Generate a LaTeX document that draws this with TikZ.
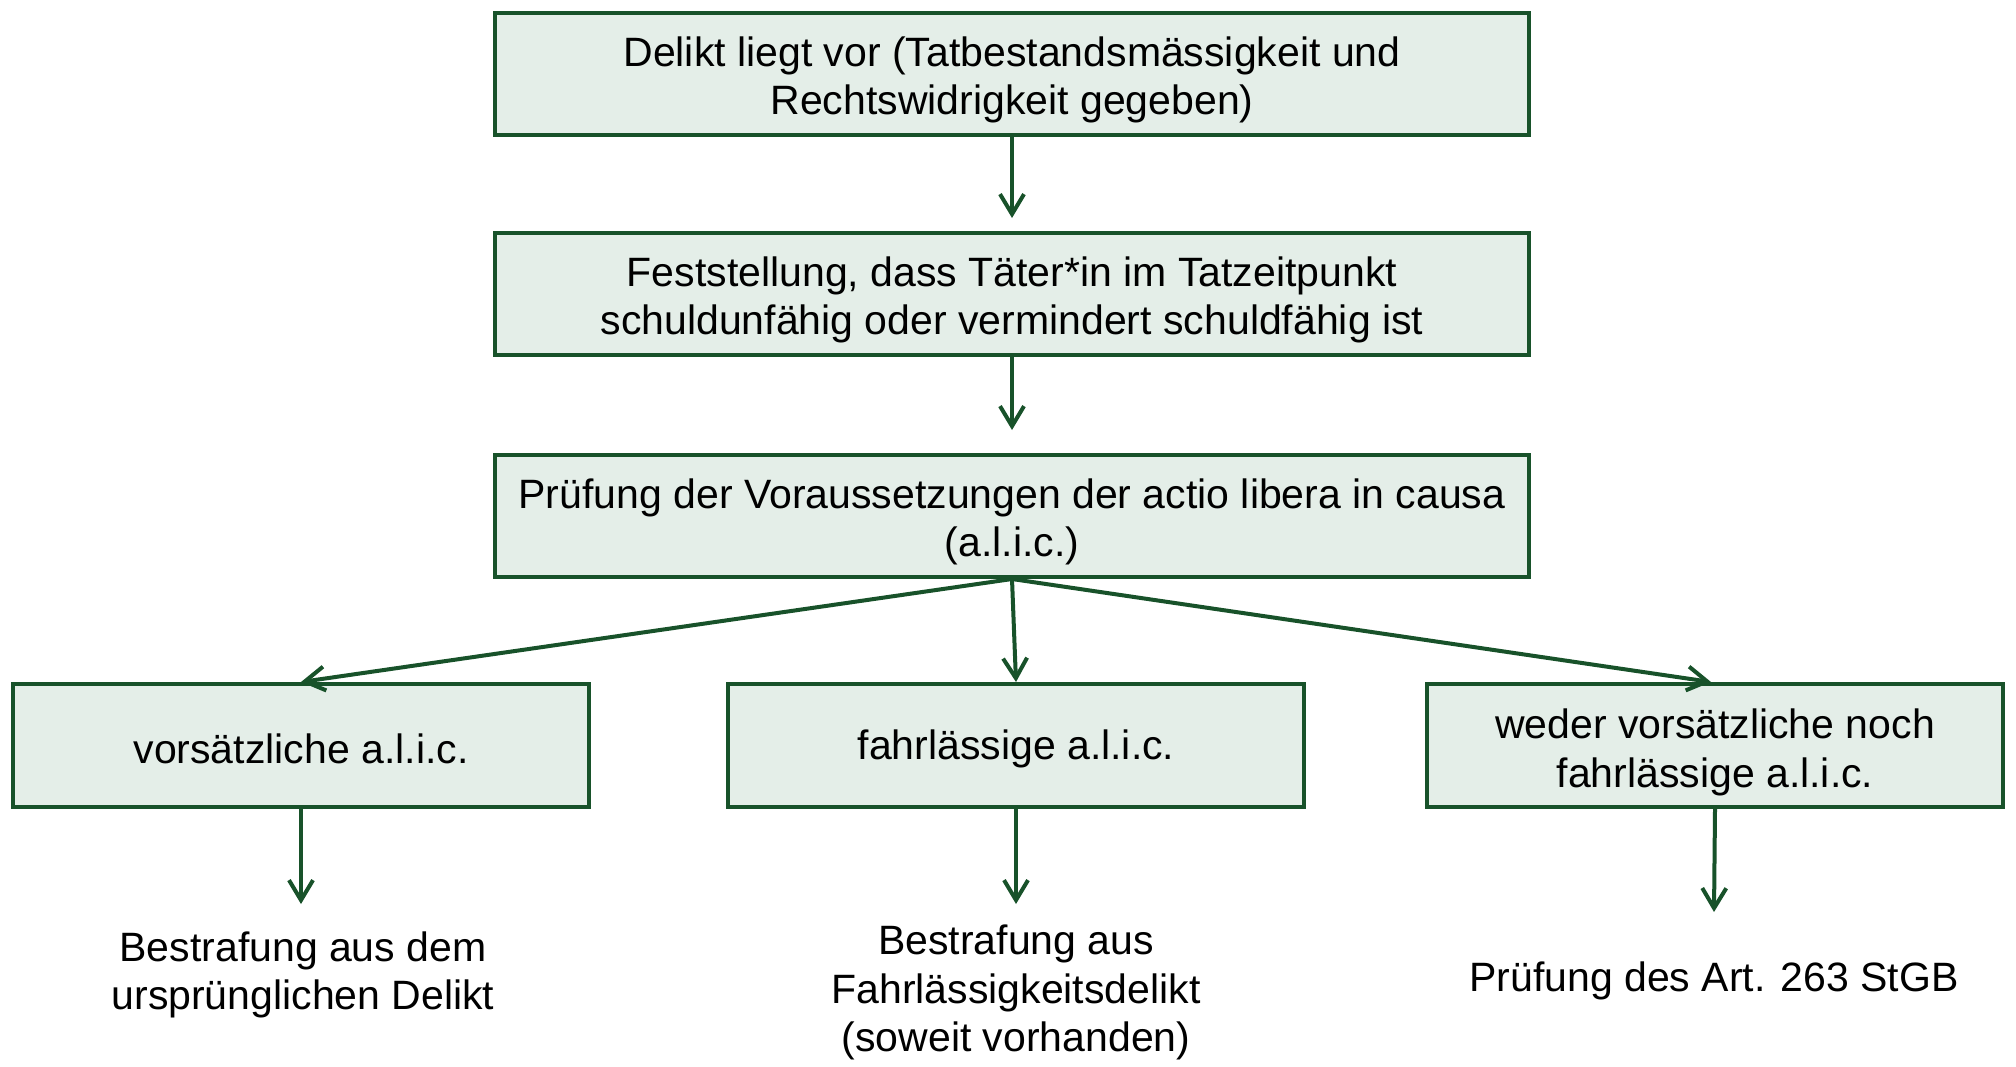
\documentclass[tikz,border=0pt]{standalone}
\usepackage{fontspec}
\setmainfont{Liberation Sans}
\usetikzlibrary{arrows.meta}
\definecolor{dgreen}{RGB}{24,82,42}
\definecolor{lgreen}{RGB}{228,238,232}
\newcommand\liftline{\rule{0pt}{20.5pt}}
\begin{document}
\begin{tikzpicture}[x=0.5pt,y=-0.5pt,
  lbl/.style={font=\fontsize{20.5pt}{24.25pt}\selectfont, align=center, inner sep=0pt},
  box/.style={lbl, draw=dgreen, fill=lgreen, line width=2pt, rectangle},
  wide/.style={box, minimum width=517pt, minimum height=61pt},
  small/.style={box, minimum width=288pt, minimum height=61.5pt},
  arr/.style={draw=dgreen, line width=2pt, -{Straight Barb[length=10pt,width=12pt]}}]
\useasboundingbox (0,0) rectangle (2016,1066);
\node[wide] (b1) at (1012,74) {\liftline Delikt liegt vor (Tatbestandsmässigkeit und\\Rechtswidrigkeit gegeben)};
\node[wide] (b2) at (1012,294) {\liftline Feststellung, dass Täter*in im Tatzeitpunkt\\schuldunfähig oder vermindert schuldfähig ist};
\node[wide] (b3) at (1012,516) {\liftline Prüfung der Voraussetzungen der actio libera in causa\\(a.l.i.c.)};
\node[small] (l) at (301,745.5) {\rule{0pt}{18.5pt}vorsätzliche a.l.i.c.};
\node[small] (m) at (1016,745.5) {\rule{0pt}{18.5pt}fahrlässige a.l.i.c.};
\node[small] (r) at (1715,745.5) {\rule{0pt}{21.5pt}weder vorsätzliche noch\\fahrlässige a.l.i.c.};
\node[lbl] (t1) at (303,969) {\liftline Bestrafung aus dem\\ursprünglichen Delikt};
\node[lbl] (t2) at (1016,987) {\liftline Bestrafung aus\\Fahrlässigkeitsdelikt\\(soweit vorhanden)};
\node[lbl] (t3) at (1714,975) {\liftline Prüfung des Art. 263 StGB};
\coordinate (e1) at (301,904);
\coordinate (e2) at (1016,904);
\coordinate (e3) at (1714,912);
\draw[arr, shorten >=6.5pt] (b1.south) -- (b2.north);
\draw[arr, shorten >=11.5pt] (b2.south) -- (b3.north);
\draw[arr] (b3.south) -- (l.north);
\draw[arr] (b3.south) -- (m.north);
\draw[arr] (b3.south) -- ([xshift=-2pt]r.north);
\draw[arr] (l.south) -- (e1);
\draw[arr] (m.south) -- (e2);
\draw[arr] (r.south) -- (e3);
\end{tikzpicture}
\end{document}
